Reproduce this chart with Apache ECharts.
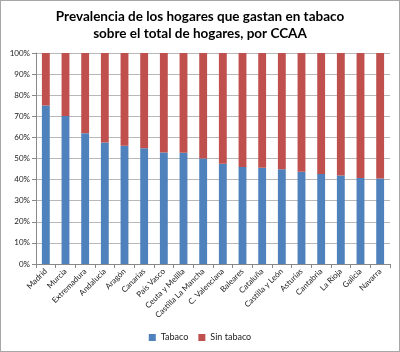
<!DOCTYPE html>
<html>
<head>
<meta charset="utf-8">
<script src="https://cdn.jsdelivr.net/npm/echarts@6/dist/echarts.min.js"></script>
<style>
  html, body { margin: 0; padding: 0; background: #fff; }
  #chart { width: 398px; height: 350px; border: 1px solid #a6a6a6; }
</style>
</head>
<body>
<div id="chart"></div>
<script>
const categories = ['Madrid', 'Murcia', 'Extremadura', 'Andalucía', 'Aragón', 'Canarias', 'País Vasco',
  'Ceuta y Melilla', 'Castilla La Mancha', 'C. Valenciana', 'Baleares', 'Cataluña', 'Castilla y León',
  'Asturias', 'Cantabria', 'La Rioja', 'Galicia', 'Navarra'];
const tabaco = [75.1, 70.1, 62.0, 57.6, 56.0, 54.9, 52.8, 52.7, 50.0, 47.5, 46.0, 45.6, 44.9, 43.7, 42.6, 41.9, 40.8, 40.5];
const sinTabaco = tabaco.map(v => +(100 - v).toFixed(1));

const chart = echarts.init(document.getElementById('chart'));
const option = {
  animation: false,
  textStyle: { fontFamily: 'Lato' },
  title: {
    text: 'Prevalencia de los hogares que gastan en tabaco\nsobre el total de hogares, por CCAA',
    left: 'center',
    top: 2,
    textStyle: { fontSize: 13.5, fontWeight: 'bold', color: '#000', lineHeight: 17, fontFamily: 'Lato' }
  },
  legend: {
    bottom: 4,
    left: 'center',
    itemWidth: 7,
    itemHeight: 7,
    itemGap: 10,
    icon: 'rect',
    textStyle: { fontSize: 9, color: '#222' },
    data: ['Tabaco', 'Sin tabaco']
  },
  grid: { left: 35, right: 9, top: 52, bottom: 87 },
  xAxis: {
    type: 'category',
    data: categories,
    axisLine: { lineStyle: { color: '#888' } },
    axisTick: { show: true, length: 4, lineStyle: { color: '#888' } },
    axisLabel: { rotate: 45, interval: 0, fontSize: 8, color: '#222', margin: 6 }
  },
  yAxis: {
    type: 'value',
    min: 0,
    max: 100,
    interval: 10,
    axisLine: { show: true, lineStyle: { color: '#888' } },
    axisTick: { show: true, length: 4, lineStyle: { color: '#888' } },
    axisLabel: { formatter: '{value}%', fontSize: 8, color: '#222', margin: 6 },
    splitLine: { lineStyle: { color: '#b8b8b8' } }
  },
  series: [
    {
      name: 'Tabaco',
      type: 'bar',
      stack: 'total',
      barWidth: '40%',
      itemStyle: { color: '#4f81bd' },
      data: tabaco
    },
    {
      name: 'Sin tabaco',
      type: 'bar',
      stack: 'total',
      barWidth: '40%',
      itemStyle: { color: '#c0504d' },
      data: sinTabaco
    }
  ]
};
chart.setOption(option);
</script>
</body>
</html>
